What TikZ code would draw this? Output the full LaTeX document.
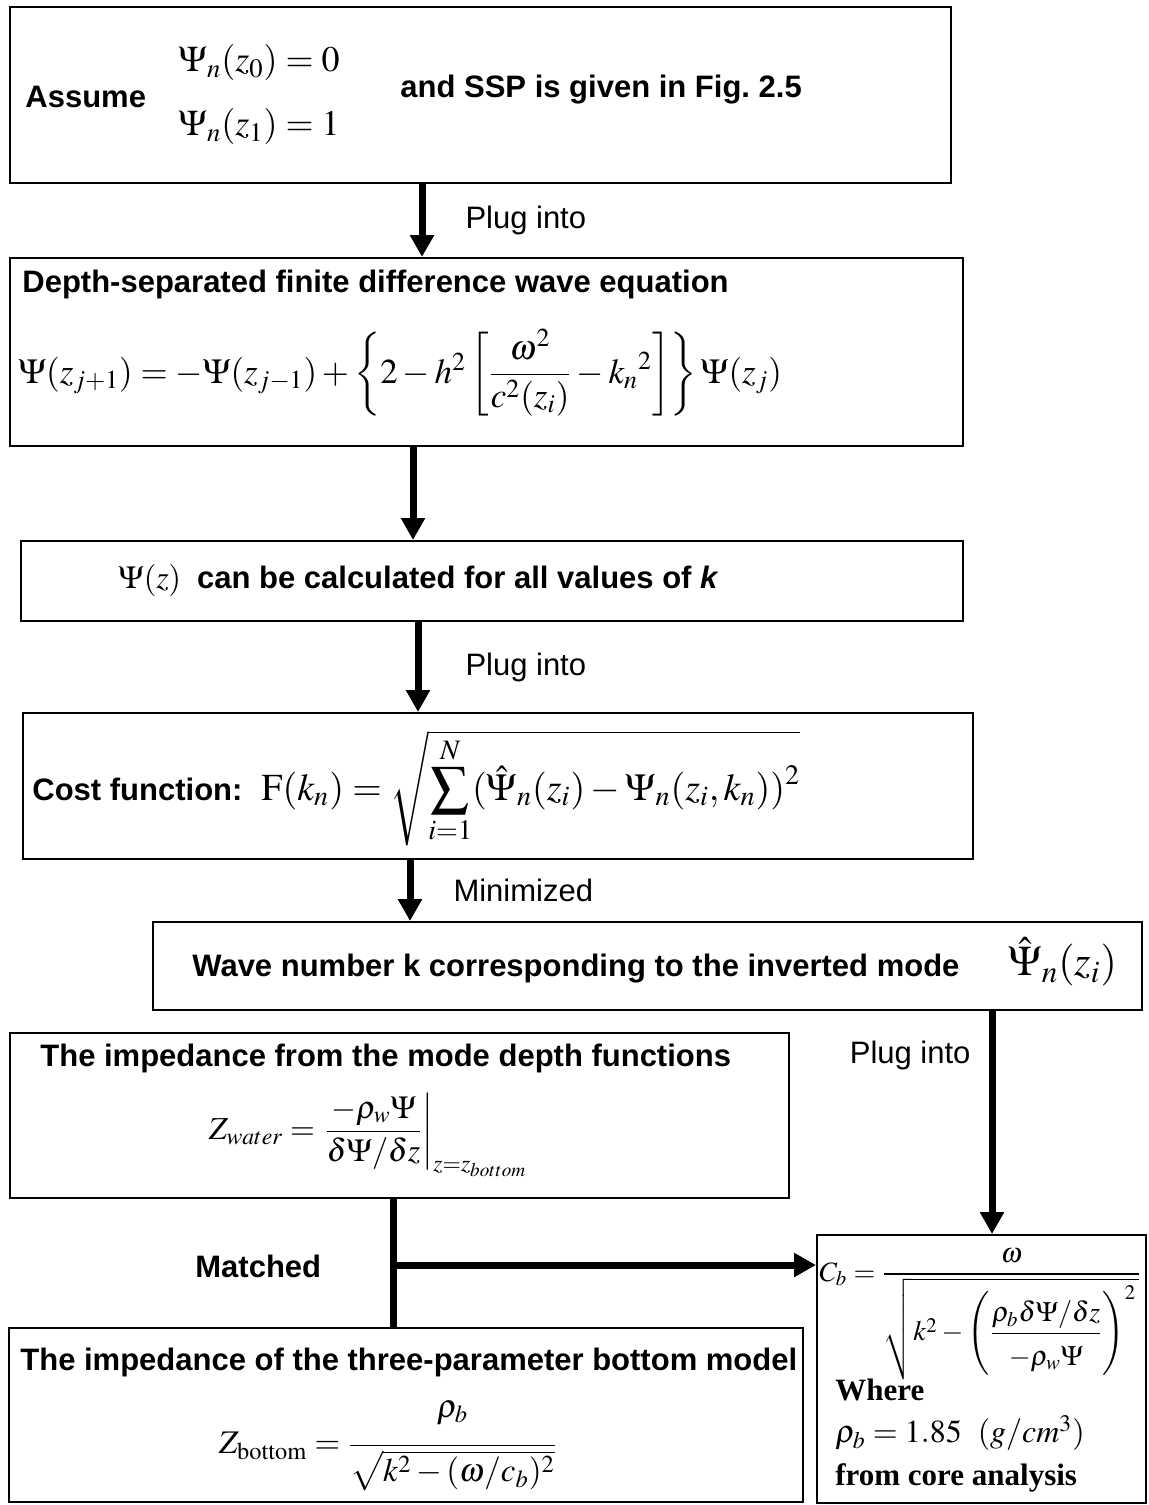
\documentclass[tikz,border=0pt]{standalone}
\usepackage{amsmath}
\usepackage{mathptmx}
\usepackage[no-math]{fontspec}
\setmainfont{Liberation Serif}
\setsansfont{Liberation Sans}
\usetikzlibrary{arrows.meta,calc}

\begin{document}
\begin{tikzpicture}[x=0.5pt,y=-0.5pt,
  box/.style={draw, line width=1pt, inner sep=0pt, anchor=north west},
  flow/.style={line width=3.5pt, -{Triangle[length=11pt,width=11.5pt]}},
  bar/.style={line width=3.5pt},
  lbl/.style={font=\sffamily\fontsize{15.5}{18}\selectfont, inner sep=0pt},
  head/.style={font=\sffamily\bfseries\fontsize{15.5}{18}\selectfont, inner sep=0pt},
  eq/.style={font=\fontsize{18}{22}\selectfont, inner sep=0pt},
  note/.style={font=\bfseries\fontsize{15.5}{19}\selectfont, inner sep=0pt, anchor=west}]
  \useasboundingbox (0,0) rectangle (1149,1505);

  % Kaesten
  \node[box, minimum width=470.5pt, minimum height=88pt] (assume) at (9,6) {};
  \node[box, minimum width=476.5pt, minimum height=94pt] (depth) at (9,257) {};
  \node[box, minimum width=471pt, minimum height=40pt] (calc) at (20,540) {};
  \node[box, minimum width=475pt, minimum height=73pt] (cost) at (22,712) {};
  \node[box, minimum width=494.5pt, minimum height=44pt] (wave) at (152,921) {};
  \node[box, minimum width=389.5pt, minimum height=82.5pt] (water) at (9,1032) {};
  \node[box, minimum width=164.5pt, minimum height=134pt] (speed) at (816,1234) {};
  \node[box, minimum width=397pt, minimum height=87pt] (bottom) at (8,1327) {};

  % Texte
  \node[head, anchor=west] (assumetxt) at (25,97) {Assume};
  \node[eq, anchor=west] (init) at (178,95)
    {$\begin{array}{@{}l@{}}\Psi_n(z_0)=0\\[10pt]\Psi_n(z_1)=1\end{array}$};
  \node[head, anchor=west] (ssp) at (400,90) {and SSP is given in Fig.~2.5};

  \node[head, anchor=west] (depthtxt) at (22,284) {Depth-separated finite difference wave equation};
  \node[eq, anchor=west, font=\fontsize{17.5}{21}\selectfont] (fdeq) at (18,373)
    {$\Psi(z_{j+1})=-\Psi(z_{j-1})+\left\{2-h^2\left[\dfrac{\omega^2}{c^2(z_i)}-{k_n}^2\right]\right\}\Psi(z_j)$};

  \node[eq, anchor=west, font=\fontsize{16}{19}\selectfont] (calctxt) at (118,580)
    {$\Psi(z)$\enspace{\sffamily\bfseries\fontsize{15.5}{18}\selectfont can be calculated for all values of \emph{k}}};

  \node[eq, anchor=west, font=\fontsize{19}{22}\selectfont] (costtxt) at (32,788)
    {{\sffamily\bfseries\fontsize{15.5}{18}\selectfont Cost function:}\enspace
     $\mathrm{F}(k_n)=\sqrt{\displaystyle\sum_{i=1}^{N}(\hat{\Psi}_n(z_i)-\Psi_n(z_i,k_n))^2}$};

  \node[head, anchor=west] (wavetxt) at (192,969) {Wave number k corresponding to the inverted mode};
  \node[eq, anchor=west, font=\fontsize{21}{24}\selectfont] (modehat) at (1008,962) {$\hat{\Psi}_n(z_i)$};

  \node[head, anchor=west] (watertxt) at (40,1058) {The impedance from the mode depth functions};
  \node[eq, font=\fontsize{16}{19}\selectfont] (zwater) at (368,1135)
    {$Z_{water}=\left.\dfrac{-\rho_w\Psi}{\delta\Psi/\delta z}\right|_{z=z_{bottom}}$};

  \node[head, anchor=west] (matched) at (195,1266) {Matched};

  \node[eq, anchor=base west, font=\fontsize{14}{17}\selectfont] (cb) at (819,1281)
    {$C_b=\dfrac{\omega}{\sqrt{k^2-\left(\dfrac{\rho_b\delta\Psi/\delta z\rule[-3pt]{0pt}{0pt}}{-\rho_w\Psi\rule{0pt}{14pt}}\right)^{2}\rule[-8pt]{0pt}{0pt}}}$};
  \node[note] (where) at (835,1390) {Where};
  \node[eq, anchor=west, font=\fontsize{16}{19}\selectfont] (rhob) at (835,1433) {$\rho_b=1.85\ \ (g/cm^3)$};
  \node[note] (core) at (835,1478) {from core analysis};

  \node[head, anchor=west] (bottomtxt) at (20,1362) {The impedance of the three-parameter bottom model};
  \node[eq, font=\fontsize{16.5}{20}\selectfont] (zbottom) at (388,1446)
    {$Z_{\mathrm{bottom}}=\dfrac{\rho_b\rule[-12pt]{0pt}{0pt}}{\sqrt{k^2-(\omega/c_b)^2}}$};

  % Pfeile
  \coordinate (c1) at (422,0);
  \coordinate (c2) at (413,0);
  \coordinate (c3) at (418,0);
  \coordinate (c4) at (410,0);
  \coordinate (c5) at (992,0);
  \coordinate (c6) at (393,0);
  \coordinate (j) at (393,1265);

  \draw[flow] (assume.south -| c1) -- node[lbl, anchor=west, xshift=20pt] (plug1) {Plug into} (depth.north -| c1);
  \draw[flow] (depth.south -| c2) -- (calc.north -| c2);
  \draw[flow] (calc.south -| c3) -- node[lbl, anchor=west, xshift=22pt] (plug2) {Plug into} (cost.north -| c3);
  \draw[flow] (cost.south -| c4) -- node[lbl, anchor=west, xshift=20pt] (minim) {Minimized} (wave.north -| c4);
  \draw[flow] (wave.south -| c5) -- node[lbl, pos=0.2, anchor=east, xshift=-9pt] (plug3) {Plug into} (speed.north -| c5);
  \draw[bar] (water.south -| c6) -- (bottom.north -| c6);
  \draw[flow] (j) -- (j -| speed.west);
\end{tikzpicture}
\end{document}
